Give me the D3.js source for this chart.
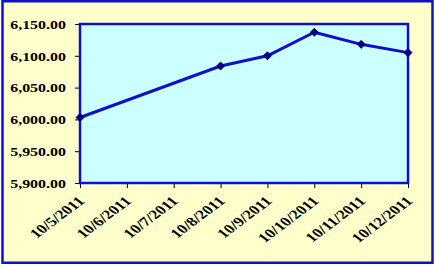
<!DOCTYPE html>
<html>
<head>
<meta charset="utf-8">
<script src="https://cdn.jsdelivr.net/npm/d3@7"></script>
<style>
  html, body { margin: 0; padding: 0; background: #ffffff; }
  svg { display: block; }
</style>
</head>
<body>
<svg id="chart" width="435" height="265"></svg>
<script>
// ---- data ----
const categories = ["10/5/2011", "10/6/2011", "10/7/2011", "10/8/2011", "10/9/2011", "10/10/2011", "10/11/2011", "10/12/2011"];
const values = [6003, null, null, 6084, 6100, 6137, 6118, 6105];
const yTicks = [5900, 5950, 6000, 6050, 6100, 6150];

// ---- layout ----
const plot = { left: 80, right: 408, top: 24, bottom: 183 };
const stretch = 1.33; // horizontal text stretch seen in the reference
const blue = "#1010CC";
const serif = "Liberation Serif";

const svg = d3.select("#chart");

// outer background + border
svg.append("rect")
  .attr("x", 2.5).attr("y", 1.25).attr("width", 430).attr("height", 261.5)
  .attr("fill", "#FFFFCC").attr("stroke", blue).attr("stroke-width", 2.5);

const x = d3.scalePoint().domain(categories).range([plot.left, plot.right]).padding(0);
const y = d3.scaleLinear().domain([5900, 6150]).range([plot.bottom, plot.top]);

// plot area
svg.append("rect")
  .attr("x", plot.left).attr("y", plot.top)
  .attr("width", plot.right - plot.left).attr("height", plot.bottom - plot.top)
  .attr("fill", "#CCFFFF");

// y axis
const yAxis = svg.append("g")
  .attr("transform", `translate(${plot.left},0)`)
  .call(d3.axisLeft(y).tickValues(yTicks).tickSize(5).tickPadding(0).tickFormat(d3.format(",.2f")));
yAxis.attr("font-family", serif).attr("font-size", 12).attr("font-weight", "bold");
yAxis.select(".domain").remove();
yAxis.selectAll(".tick line").attr("stroke", "#000").attr("stroke-width", 1);
yAxis.selectAll(".tick text")
  .attr("x", null).attr("dy", null)
  .attr("text-anchor", "end")
  .attr("dominant-baseline", "central")
  .attr("transform", `translate(-14,0) scale(${stretch},1)`)
  .attr("fill", "#000");

// x axis
const xAxis = svg.append("g")
  .attr("transform", `translate(0,${plot.bottom})`)
  .call(d3.axisBottom(x).tickSize(5).tickPadding(0));
xAxis.attr("font-family", serif).attr("font-size", 13).attr("font-weight", "bold");
xAxis.select(".domain").remove();
xAxis.selectAll(".tick line").attr("stroke", "#000").attr("stroke-width", 1);
xAxis.selectAll(".tick text")
  .attr("y", null).attr("dy", null)
  .attr("text-anchor", "end")
  .attr("transform", `translate(5,19) scale(${stretch},1) rotate(-45)`)
  .attr("fill", "#000");

// plot border
svg.append("rect")
  .attr("x", plot.left).attr("y", plot.top)
  .attr("width", plot.right - plot.left).attr("height", plot.bottom - plot.top)
  .attr("fill", "none").attr("stroke", blue).attr("stroke-width", 2.5);

// series
const pts = categories.map((c, i) => ({ c, v: values[i] })).filter(d => d.v !== null);
const line = d3.line().x(d => x(d.c)).y(d => y(d.v));
svg.append("path")
  .datum(pts)
  .attr("d", line)
  .attr("fill", "none")
  .attr("stroke", blue)
  .attr("stroke-width", 3)
  .attr("stroke-linejoin", "round");

svg.selectAll(".marker")
  .data(pts)
  .enter().append("path")
  .attr("class", "marker")
  .attr("d", d3.symbol().type(d3.symbolDiamond2).size(40))
  .attr("transform", d => `translate(${x(d.c)},${y(d.v)})`)
  .attr("fill", "#000080")
  .attr("stroke", "#000080")
  .attr("stroke-width", 1);
</script>
</body>
</html>
